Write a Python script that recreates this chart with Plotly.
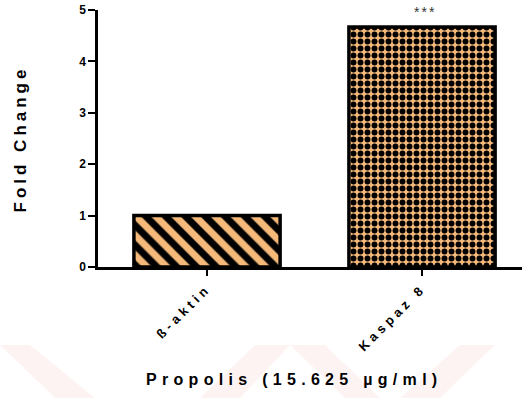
import plotly.graph_objects as go

categories = ["ß-aktin", "Kaspaz 8"]
fold_change = [1.0, 4.67]
significance = ["", "***"]
patterns = ["\\", "."]
y_ticks = [0, 1, 2, 3, 4, 5]
x_title = "Propolis (15.625 µg/ml)"
y_title = "Fold Change"

bar_color = "#F5B97A"
font_family = "Liberation Sans, Arial, sans-serif"

W, H = 522, 398
L, R, T, B = 98, 0, 10, 131

fig = go.Figure()
for i, (cat, val, pat) in enumerate(zip(categories, fold_change, patterns)):
    pattern = dict(shape=pat, fgcolor="black", bgcolor=bar_color,
                   fillmode="overlay", fgopacity=1)
    if pat == "\\":
        pattern.update(size=14, solidity=0.5)
    else:
        pattern.update(size=7, solidity=0.55)
    fig.add_trace(go.Bar(
        x=[i], y=[val], width=0.68,
        marker=dict(color=bar_color, pattern=pattern,
                    line=dict(color="black", width=3.5)),
        showlegend=False, hoverinfo="skip",
    ))
    if significance[i]:
        fig.add_annotation(x=i, y=val, text=f'<span style="letter-spacing:2px">{significance[i]}</span>',
                           showarrow=False, yanchor="bottom", yshift=5, xshift=3,
                           font=dict(size=14, color="#333", family=font_family))


def px(x, y):
    """pixel position -> paper coordinates"""
    return (x - L) / (W - L - R), (H - B - y) / (H - T - B)


# faint watermark strokes
strokes = [
    [(0, 345), (30, 345), (95, 398), (55, 398)],
    [(200, 398), (240, 398), (290, 345), (255, 345)],
    [(290, 345), (325, 345), (380, 398), (345, 398)],
    [(400, 398), (440, 398), (495, 345), (460, 345)],
]
for pts in strokes:
    conv = [px(x, y) for x, y in pts]
    path = "M " + " L ".join(f"{a:.4f},{b:.4f}" for a, b in conv) + " Z"
    fig.add_shape(type="path", path=path, xref="paper", yref="paper",
                  fillcolor="rgba(235,80,80,0.07)", line=dict(width=0),
                  layer="below")

tx, ty = px(294, 390)
fig.add_annotation(xref="paper", yref="paper", x=tx, y=ty, showarrow=False,
                   text=f'<span style="letter-spacing:5.3px">{x_title}</span>',
                   font=dict(size=16, family=font_family, weight="bold", color="black"))

tx, ty = px(8, 139)
fig.add_annotation(xref="paper", yref="paper", x=tx, y=ty, showarrow=False,
                   textangle=-90,
                   text=f'<span style="letter-spacing:4px">{y_title}</span>',
                   font=dict(size=17, family=font_family, weight="bold", color="black"))

fig.update_layout(
    width=W, height=H,
    margin=dict(l=L, r=R, t=T, b=B),
    plot_bgcolor="rgba(0,0,0,0)", paper_bgcolor="white",
    font=dict(family=font_family, color="black"),
    xaxis=dict(
        range=[-0.507, 1.465], automargin=False,
        tickmode="array", tickvals=list(range(len(categories))),
        ticktext=[f'<span style="letter-spacing:4px">{c}</span>' for c in categories],
        tickangle=-45,
        tickfont=dict(size=13, family=font_family, weight="bold", color="black"),
        showline=True, linecolor="black", linewidth=2.5,
        ticks="outside", ticklen=6, tickwidth=2, tickcolor="black",
        showgrid=False, zeroline=False,
    ),
    yaxis=dict(
        range=[0, 5], automargin=False,
        tickmode="array", tickvals=y_ticks,
        tickfont=dict(size=12, family=font_family, weight="bold", color="black"),
        showline=True, linecolor="black", linewidth=2.5,
        ticks="outside", ticklen=7, tickwidth=2, tickcolor="black",
        showgrid=False, zeroline=False,
    ),
)

fig.write_html("out.html", config={"displayModeBar": False},
               post_script="document.body.style.margin='0';")
